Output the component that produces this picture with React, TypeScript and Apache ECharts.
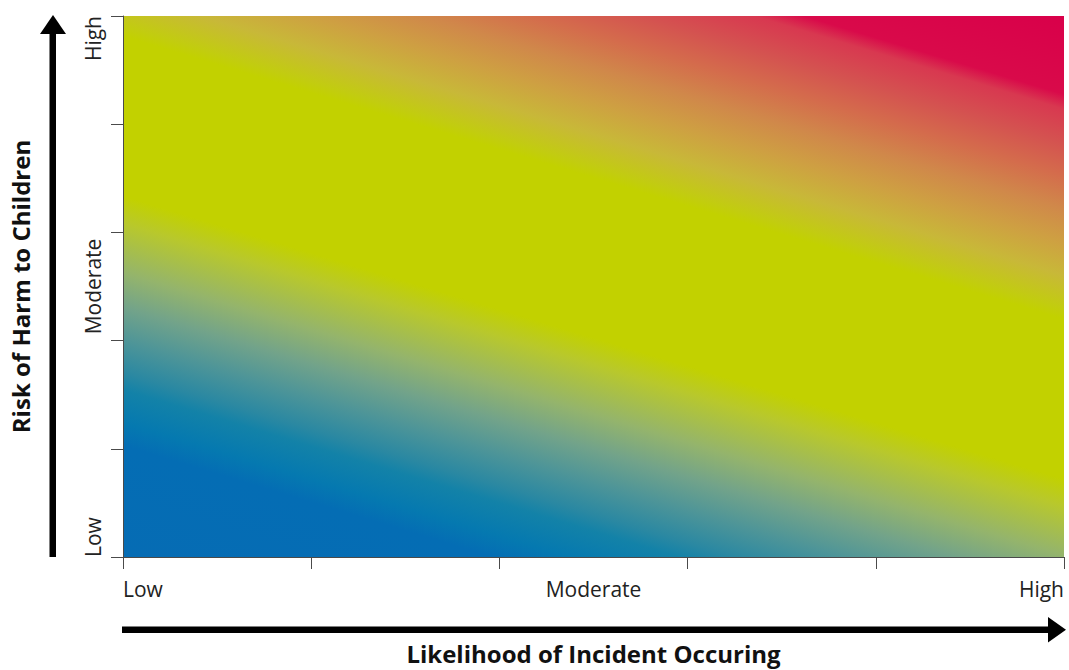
import React, { useEffect, useRef } from "react";
import * as echarts from "echarts";

// Levels on each axis (Low -> High), ticks on every second level
const xLevels = ["Low", "", "", "", "", "Moderate", "", "", "", "", "High"];
const yLevels = ["Low", "", "", "", "", "Moderate", "", "", "", "", "High"];
const xTitle = "Likelihood of Incident Occuring";
const yTitle = "Risk of Harm to Children";
// Risk field spans the full grid: [xFrom, yFrom, xTo, yTo] (level indices)
const riskField = [[0, 0, xLevels.length - 1, yLevels.length - 1]];

// Colour ramp of the risk field, from low/low corner to high/high corner
const rampOffsets = [0, 0.135, 0.163, 0.203, 0.223, 0.263, 0.303, 0.345, 0.405, 0.438, 0.632, 0.645, 0.685, 0.725, 0.766, 0.806, 0.846, 0.887, 0.905, 1];
const rampColors = ["#066cb4", "#046db4", "#0579b0", "#1382a8", "#2a88a2", "#4e9598", "#72a38a", "#94b46c", "#b8c82c", "#c2d100", "#c2d100", "#c2cc10", "#c8b838", "#cea042", "#d0884a", "#d46c4c", "#d45250", "#d83850", "#d90a4a", "#d9004a"];
const isoDrop = 0.523; // iso-colour lines fall this fraction of the height across the width

const FONT = "'Open Sans', 'Noto Sans', sans-serif";
const AXIS_COLOR = "#4a4a4a";
const TEXT_COLOR = "#222";

export default function App() {
  const ref = useRef<HTMLDivElement>(null);
  useEffect(() => {
    if (!ref.current) return;
    const chart = echarts.init(ref.current, undefined, { renderer: "svg" });
    const tickEven = (i: number) => i % 2 === 0;
    const labelShown = (_i: number, v: string) => v !== "";
    const option: any = {
      animation: false,
      grid: { left: 122, top: 16, width: 942, height: 541, containLabel: false },
      xAxis: {
        type: "category",
        data: xLevels,
        boundaryGap: false,
        axisLine: { show: true, lineStyle: { color: AXIS_COLOR, width: 1 } },
        axisTick: { show: true, length: 12, interval: tickEven, lineStyle: { color: AXIS_COLOR, width: 1 } },
        axisLabel: {
          interval: labelShown,
          margin: 21,
          fontSize: 21,
          color: TEXT_COLOR,
          fontFamily: FONT,
          alignMinLabel: "left",
          alignMaxLabel: "right",
        },
        splitLine: { show: false },
        name: xTitle,
        nameLocation: "middle",
        nameGap: 84,
        nameTextStyle: { fontSize: 24, fontWeight: "bold", color: "#111", fontFamily: FONT },
      },
      yAxis: {
        type: "category",
        data: yLevels,
        boundaryGap: false,
        axisLine: { show: true, lineStyle: { color: AXIS_COLOR, width: 1 } },
        axisTick: { show: true, length: 12, interval: tickEven, lineStyle: { color: AXIS_COLOR, width: 1 } },
        axisLabel: {
          interval: labelShown,
          rotate: 90,
          margin: 20,
          fontSize: 21,
          color: TEXT_COLOR,
          fontFamily: FONT,
          alignMinLabel: "left",
          alignMaxLabel: "right",
        },
        splitLine: { show: false },
        name: yTitle,
        nameLocation: "middle",
        nameRotate: 90,
        nameGap: 91,
        nameTextStyle: { fontSize: 24, fontWeight: "bold", color: "#111", fontFamily: FONT },
      },
      series: [
        {
          type: "custom",
          coordinateSystem: "cartesian2d",
          silent: true,
          z: 0,
          data: riskField,
          renderItem: (_params: any, api: any) => {
            const p0 = api.coord([api.value(0), api.value(1)]);
            const p1 = api.coord([api.value(2), api.value(3)]);
            const w = p1[0] - p0[0];
            const h = p0[1] - p1[1];
            const s = (isoDrop * h) / w;
            const L = Math.sqrt(1 + s * s);
            const nx = s / L;
            const ny = -1 / L;
            const D = (s * w + h) / L;
            const stops = rampOffsets.map((o, i) => ({ offset: o, color: rampColors[i] }));
            const fill = new echarts.graphic.LinearGradient(p0[0], p0[1], p0[0] + nx * D, p0[1] + ny * D, stops, true);
            return {
              type: "rect",
              shape: { x: p0[0], y: p1[1], width: w, height: h },
              style: { fill },
            };
          },
        },
      ],
      graphic: [
        // vertical arrow
        { type: "rect", shape: { x: 49.5, y: 30, width: 6.5, height: 527 }, style: { fill: "#000" } },
        { type: "polygon", shape: { points: [[53, 15], [66, 34], [40, 34]] }, style: { fill: "#000" } },
        // horizontal arrow
        { type: "rect", shape: { x: 122, y: 626.5, width: 930, height: 6.5 }, style: { fill: "#000" } },
        { type: "polygon", shape: { points: [[1066, 629.7], [1048, 617], [1048, 642.5]] }, style: { fill: "#000" } },
      ],
    };
    chart.setOption(option);
    return () => chart.dispose();
  }, []);
  return <div ref={ref} style={{ position: "fixed", left: 0, top: 0, width: 1069, height: 670, background: "#fff" }} />;
}
